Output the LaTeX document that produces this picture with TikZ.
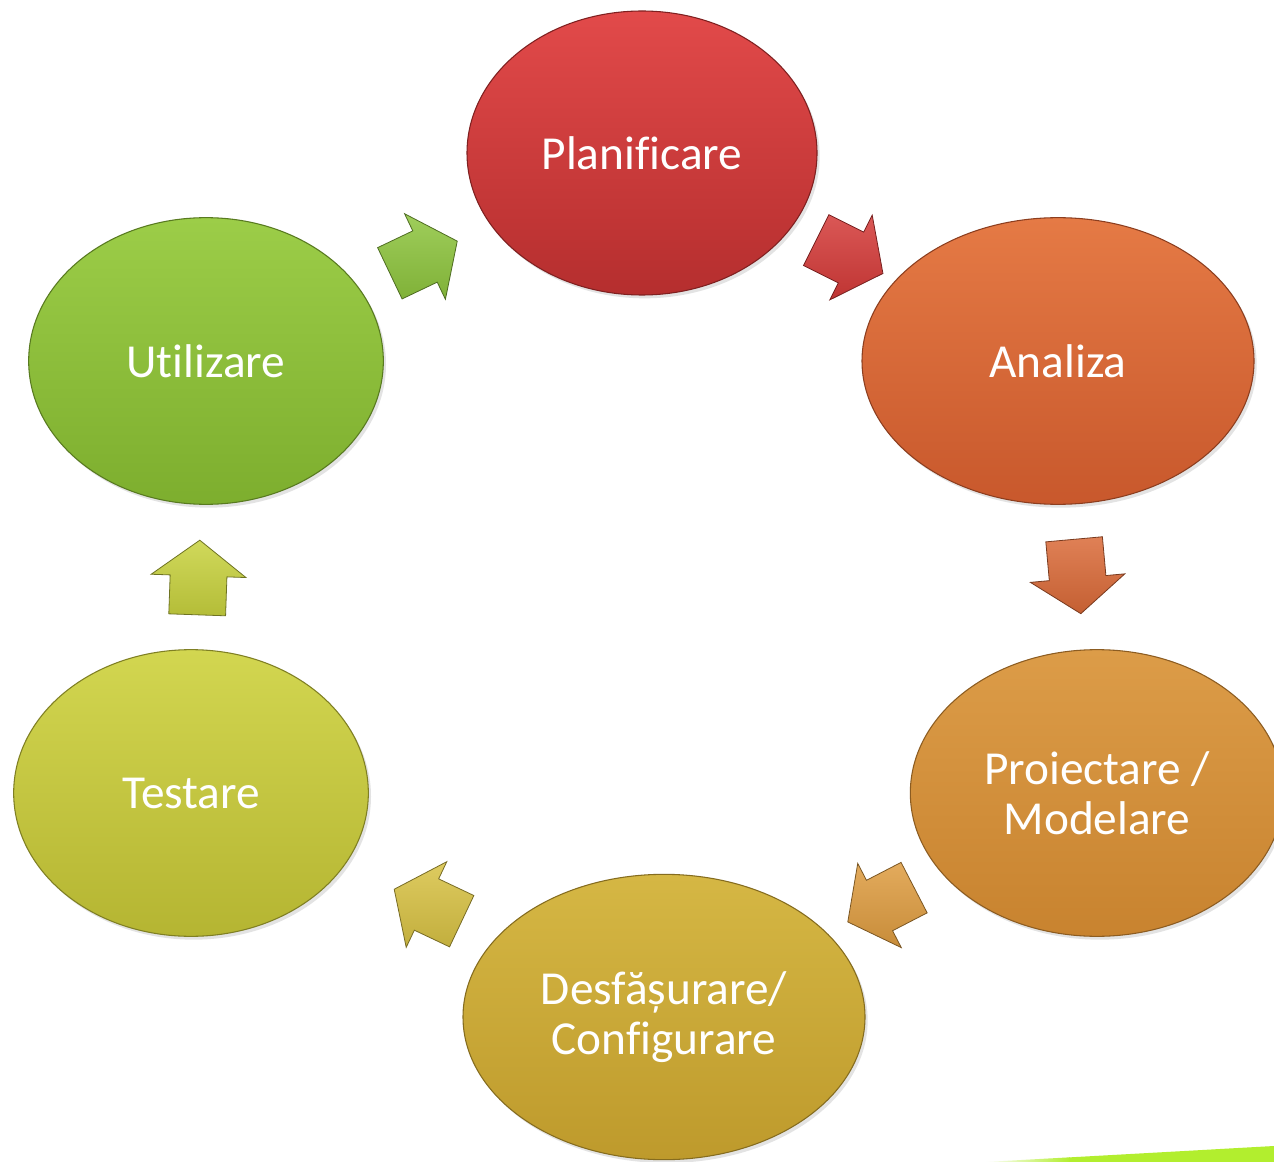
\documentclass[tikz,border=0pt]{standalone}
\usepackage{fontspec}
\setmainfont{Carlito}[Ligatures=NoCommon]
\usetikzlibrary{shapes.geometric,shapes.arrows,calc,shadows}
\definecolor{planT}{HTML}{E24A4A}
\definecolor{planB}{HTML}{B52E2E}
\definecolor{anaT}{HTML}{E57A45}
\definecolor{anaB}{HTML}{C8582C}
\definecolor{proT}{HTML}{DC9C48}
\definecolor{proB}{HTML}{C8832F}
\definecolor{desT}{HTML}{D5B744}
\definecolor{desB}{HTML}{BE9A2C}
\definecolor{tesT}{HTML}{D2D650}
\definecolor{tesB}{HTML}{B5B532}
\definecolor{utiT}{HTML}{9CCD48}
\definecolor{utiB}{HTML}{7DAE2E}
\definecolor{arRed}{HTML}{D43A38}
\definecolor{arOrange}{HTML}{DA6A38}
\definecolor{arGold}{HTML}{DE9C40}
\definecolor{arYellow}{HTML}{D8C244}
\definecolor{arLime}{HTML}{C8D23E}
\definecolor{arGreen}{HTML}{8EC53E}
\definecolor{stripe}{HTML}{B2EE2E}
\newcommand\flowarrow[3]{%
  \path let \p1=($(#2)-(#1)$), \n1={atan2(\y1,\x1)} in
    node[flow, rotate=\n1, anchor=tip, top color=#3!85!white, bottom color=#3!90!black, draw=#3!55!black]
      (#1-#2) at ($($(#1)!0.5!(#2)$)!28pt!(#2)$) {};}
\begin{document}
\begin{tikzpicture}[x=0.75pt,y=-0.75pt,
  phase/.style={ellipse, inner sep=0pt, align=center, text=white,
    font=\fontsize{35.5}{37.5}\selectfont, line width=0.8pt,
    drop shadow={opacity=0.22, shadow xshift=2pt, shadow yshift=-2.5pt}},
  flow/.style={single arrow, inner xsep=0pt, inner ysep=21pt, minimum height=56pt,
    single arrow head extend=14.25pt, single arrow tip angle=106, line width=0.6pt}]
\useasboundingbox (0,0) rectangle (1274,1162);
\clip (0,0) rectangle (1274,1162);
\fill[white] (0,0) rectangle (1274,1162);
% lime stripe
\shade[left color=white, right color=stripe] (985,1162) -- (1070,1157.3) -- (1070,1162) -- cycle;
\fill[stripe] (1069,1157.4) -- (1274,1146) -- (1274,1162) -- (1069,1162) -- cycle;
% phases
\node[phase, minimum width=262.5pt, minimum height=213pt, top color=planT, bottom color=planB, draw=planB!70!black] (plan) at (642,153) {Planificare};
\node[phase, minimum width=294pt, minimum height=215pt, top color=anaT, bottom color=anaB, draw=anaB!70!black] (ana) at (1058,361) {Analiza};
\node[phase, minimum width=280pt, minimum height=215pt, top color=proT, bottom color=proB, draw=proB!70!black] (pro) at (1097,793) {Proiectare /\\Modelare};
\node[phase, minimum width=301.5pt, minimum height=214pt, top color=desT, bottom color=desB, draw=desB!70!black] (des) at (664,1017) {Desfășurare/\\Configurare};
\node[phase, minimum width=266pt, minimum height=215pt, top color=tesT, bottom color=tesB, draw=tesB!70!black] (tes) at (191,793) {Testare};
\node[phase, minimum width=266pt, minimum height=215pt, top color=utiT, bottom color=utiB, draw=utiB!70!black] (uti) at (206,361) {Utilizare};
% arrows
\flowarrow{plan}{ana}{arRed}
\flowarrow{ana}{pro}{arOrange}
\flowarrow{pro}{des}{arGold}
\flowarrow{des}{tes}{arYellow}
\flowarrow{tes}{uti}{arLime}
\flowarrow{uti}{plan}{arGreen}
\end{tikzpicture}
\end{document}
